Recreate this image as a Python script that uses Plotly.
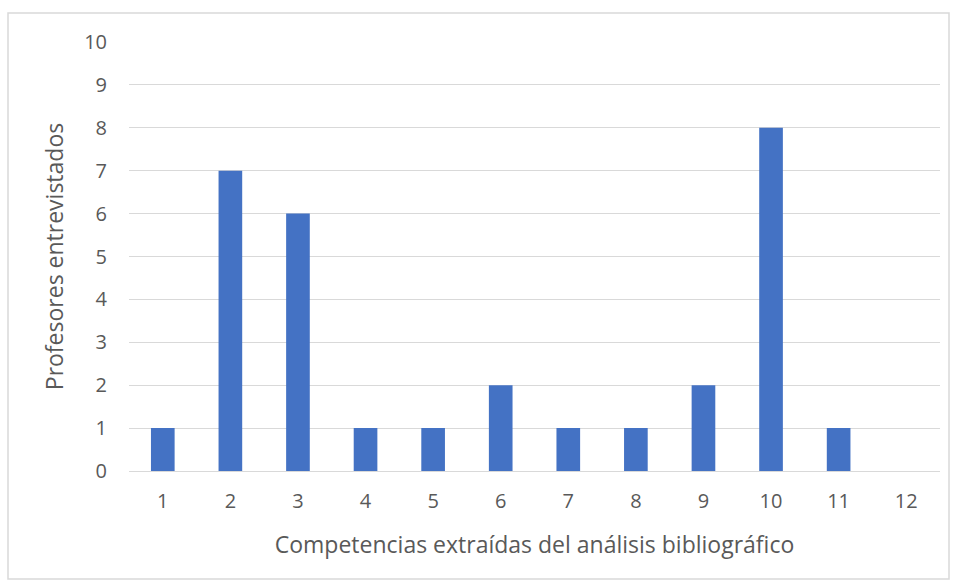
import plotly.graph_objects as go

competencias = [str(i) for i in range(1, 13)]
profesores = [1, 7, 6, 1, 1, 2, 1, 1, 2, 8, 1, 0]
y_ticks = list(range(0, 11))

FONT = "'Open Sans', sans-serif"
GREY = "#595959"

fig = go.Figure(
    go.Bar(
        x=competencias,
        y=profesores,
        marker=dict(color="#4472C4", line=dict(width=0)),
        width=0.35,
    )
)

L, R, T, B = 129, 14, 42, 110
W, H = 954, 581
pw, ph = W - L - R, H - T - B

fig.update_layout(
    width=W,
    height=H,
    margin=dict(l=L, r=R, t=T, b=B),
    paper_bgcolor="white",
    plot_bgcolor="white",
    showlegend=False,
    font=dict(family=FONT, color=GREY, size=16),
    xaxis=dict(
        type="category",
        showgrid=False,
        showline=True,
        linecolor="#d9d9d9",
        linewidth=1,
        ticks="",
        ticklabelstandoff=12,
        tickfont=dict(size=20, color=GREY),
        title=dict(text="Competencias extraídas del análisis bibliográfico",
                   font=dict(size=23, color=GREY), standoff=23),
    ),
    yaxis=dict(
        range=[0, 10],
        tickvals=y_ticks,
        showgrid=True,
        gridcolor="#d9d9d9",
        gridwidth=1,
        zeroline=False,
        ticks="",
        ticklabelstandoff=21,
        tickfont=dict(size=20, color=GREY),
        title=dict(text="Profesores entrevistados",
                   font=dict(size=23, color=GREY), standoff=14),
    ),
    shapes=[
        dict(
            type="rect", xref="paper", yref="paper",
            x0=(8 - L) / pw, x1=(949 - L) / pw,
            y0=(H - B - 579) / ph, y1=(H - B - 13) / ph,
            line=dict(color="#d9d9d9", width=1.5),
            fillcolor="rgba(0,0,0,0)",
        )
    ],
)

fig.write_html("out.html")
